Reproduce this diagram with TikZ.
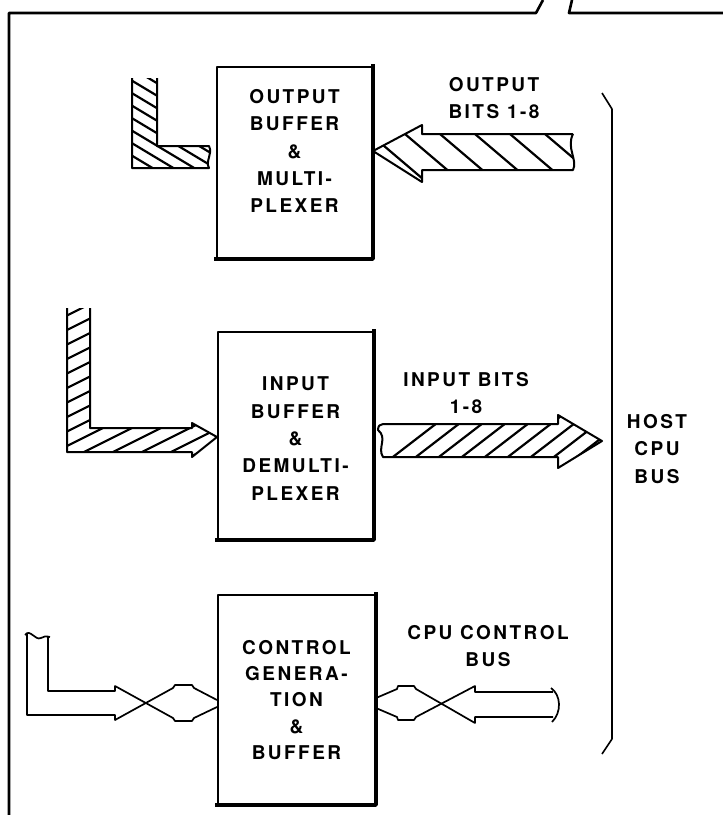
\documentclass[tikz,border=0pt]{standalone}
\usepackage{fontspec}
\setmainfont{TeX Gyre Heros}[LetterSpace=13]
\begin{document}
\begin{tikzpicture}[x=1pt,y=-1pt,line join=round]
\useasboundingbox (0,0) rectangle (723,815);
\tikzset{
  blk/.style={draw,line width=2pt,inner sep=0pt,minimum width=#1},
  shadowedge/.style={line width=3.6pt,line cap=rect},
  txt/.style={align=center,inner sep=0pt,font=\fontsize{19}{27.3}\selectfont\bfseries},
  outl/.style={line width=2pt},
  hatch/.style={line width=2.2pt},
  wire/.style={line width=1.7pt},
  frame/.style={line width=2.6pt}
}
% frame
\draw[frame] (9,815) -- (9,13) -- (536,13) -- (543,0);
\draw[frame] (572,0) -- (569,13) -- (723,13);
% host bus bracket
\coordinate (bt) at (602,93);
\coordinate (bb) at (602,754);
\draw[line width=1.6pt] (bt) -- (612,109) -- (612,739) -- (bb);
\node[txt] (host) at (657,449) {HOST\\CPU\\BUS};

% boxes
\node[blk=155pt,minimum height=191pt] (b1) at (294.5,162.5) {};
\node[blk=155pt,minimum height=207pt] (b2) at (295.5,435.5) {};
\node[blk=157pt,minimum height=209pt] (b3) at (296.5,699.5) {};
\foreach \b in {b1,b2,b3}{
  \draw[shadowedge] (\b.north east) -- (\b.south east) -- (\b.south west);
}
\node[txt] (t1) at (294.5,151) {OUTPUT\\BUFFER\\\&\\MULTI-\\PLEXER};
\node[txt] (t2) at (295.5,438.5) {INPUT\\BUFFER\\\&\\DEMULTI-\\PLEXER};
\node[txt,font=\fontsize{19}{26.3}\selectfont\bfseries] (t3) at (296.5,700) {CONTROL\\GENERA-\\TION\\\&\\BUFFER};

% labels
\node[txt] (l1) at (494,98) {OUTPUT\\BITS 1-8};
\node[txt] (l2) at (466,393) {INPUT BITS\\1-8};
\node[txt] (l3) at (488,646) {CPU CONTROL\\BUS};

% ---------- output hatched L (left of box 1)
\def\outL{(132,78) -- (132,168) -- (209,168) .. controls (205,161) and (213,154) .. (209,146) -- (157,146) -- (157,78)}
\begin{scope}
  \clip (132,78) -- (132,168) -- (209,168) .. controls (205,161) and (213,154) .. (209,146) -- (157,146) -- (157,78) -- cycle;
  \foreach \k in {0,...,22}{\draw[hatch] (110,30+\k*12.5) -- ++(130,78);}
\end{scope}
\draw[outl] \outL;

% ---------- output bus arrow (into box 1)
\coordinate (oarr) at (b1.east |- 0,151);
\begin{scope}
  \clip (573,134) -- (422,134) -- (422,125) -- (oarr) -- (422,182) -- (422,170) -- (573,170)
        .. controls (578,160) and (566,148) .. (573,134) -- cycle;
  \foreach \k in {0,...,9}{\draw[hatch] (330+\k*35,100) -- ++(110,93.5);}
\end{scope}
\draw[outl] (573,134) -- (422,134) -- (422,125) -- (oarr) -- (422,182) -- (422,170) -- (573,170)
        .. controls (578,160) and (566,148) .. (573,134);

% ---------- input hatched L (into box 2)
\coordinate (iarr) at (b2.west |- 0,437);
\begin{scope}
  \clip (67,308) -- (67,452) -- (192,452) -- (192,457) -- (iarr) -- (192,423) -- (192,428) -- (90,428) -- (90,308) -- cycle;
  \foreach \k in {0,...,26}{\draw[hatch] (40,300+\k*14.5) -- ++(220,-110);}
\end{scope}
\draw[outl] (67,308) -- (67,452) -- (192,452) -- (192,457) -- (iarr) -- (192,423) -- (192,428) -- (90,428) -- (90,308);

% ---------- input bus arrow (to host bus)
\coordinate (itip) at (602,441);
\begin{scope}
  \clip (383,424) -- (558,424) -- (558,415) -- (itip) -- (558,468) -- (558,457) -- (383,457)
        .. controls (377,448) and (388,438) .. (378,430) .. controls (378,426) and (380,424) .. (383,424) -- cycle;
  \foreach \k in {0,...,11}{\draw[hatch] (350+\k*23,490) -- ++(120,-92.4);}
\end{scope}
\draw[outl] (383,424) -- (558,424) -- (558,415) -- (itip) -- (558,468) -- (558,457) -- (383,457)
        .. controls (377,448) and (388,438) .. (378,430) .. controls (378,426) and (380,424) .. (383,424);

% ---------- left control wires (into box 3)
\coordinate (c3a) at (b3.west |- 0,700);
\coordinate (c3b) at (b3.west |- 0,707);
\draw[wire] (25,635) .. controls (30,628) and (35,641) .. (41,638) .. controls (44,636) and (46,636) .. (50,637);
\draw[wire] (27,634) -- (27,715) -- (115,715) -- (115,720) -- (173,688) -- (175,685) -- (192,685) -- (194,688) -- (c3a);
\draw[wire] (48,637) -- (48,691) -- (115,691) -- (115,686) -- (173,718) -- (175,721) -- (192,721) -- (194,718) -- (c3b);

% ---------- right control wires (from box 3 to CPU control bus)
\coordinate (c3c) at (b3.east |- 0,698);
\coordinate (c3d) at (b3.east |- 0,708);
\draw[wire] (c3c) -- (397,689) -- (398,686) -- (414,686) -- (416,689) -- (475,723) -- (475,717) -- (553,717);
\draw[wire] (c3d) -- (397,717) -- (398,720) -- (414,720) -- (416,717) -- (475,686) -- (475,692) -- (553,692);
\draw[wire] (551,688) .. controls (561,695) and (562,712) .. (552,722);
\end{tikzpicture}
\end{document}
